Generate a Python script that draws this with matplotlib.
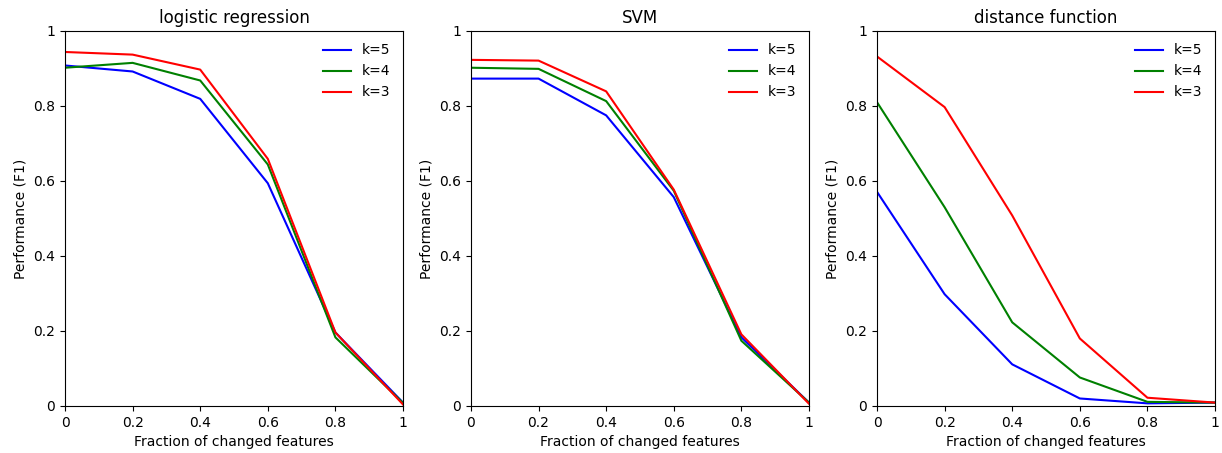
import matplotlib
matplotlib.use("Agg")
import matplotlib.pyplot as plt
from matplotlib.ticker import FormatStrFormatter

fractions = [0, 0.2, 0.4, 0.6, 0.8, 1.0]
titles = ["logistic regression", "SVM", "distance function"]
labels = ["k=5", "k=4", "k=3"]
colors = ["b", "g", "r"]

# F1 per k, one list per panel
logreg = [
    [0.908, 0.892, 0.819, 0.594, 0.196, 0.009],
    [0.902, 0.915, 0.868, 0.644, 0.183, 0.008],
    [0.944, 0.937, 0.897, 0.659, 0.196, 0.004],
]
svm = [
    [0.873, 0.873, 0.775, 0.557, 0.183, 0.009],
    [0.902, 0.899, 0.813, 0.574, 0.174, 0.009],
    [0.923, 0.921, 0.839, 0.577, 0.191, 0.006],
]
distance = [
    [0.571, 0.298, 0.111, 0.020, 0.007, 0.009],
    [0.810, 0.530, 0.223, 0.076, 0.011, 0.009],
    [0.932, 0.797, 0.508, 0.180, 0.022, 0.009],
]
panels = [logreg, svm, distance]

fig = plt.figure(figsize=(12.22, 4.53), dpi=100)
lefts = [0.0532, 0.3854, 0.7177]
width = 0.2766
for left, title, data in zip(lefts, titles, panels):
    ax = fig.add_axes([left, 0.1038, width, 0.8278])
    for ys, lab, c in zip(data, labels, colors):
        ax.plot(fractions, ys, color=c, label=lab, linewidth=1.5)
    ax.set_xlim(0, 1)
    ax.set_ylim(0, 1)
    ax.xaxis.set_major_formatter(FormatStrFormatter("%g"))
    ax.yaxis.set_major_formatter(FormatStrFormatter("%g"))
    ax.set_title(title)
    ax.set_xlabel("Fraction of changed features")
    ax.set_ylabel("Performance (F1)")
    ax.legend(loc="upper right", frameon=False)

fig.savefig("out.png", dpi=100)
